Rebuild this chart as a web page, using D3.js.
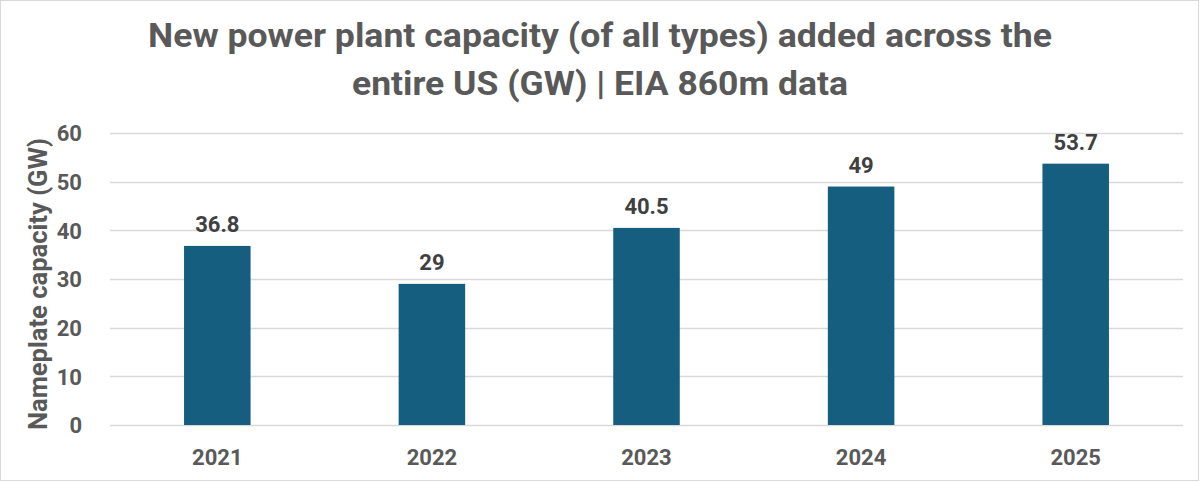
<!DOCTYPE html>
<html>
<head>
<meta charset="utf-8">
<script src="https://cdn.jsdelivr.net/npm/d3@7"></script>
<style>
  body { margin: 0; background: #fff; }
  text { font-family: "Roboto", "Liberation Sans", sans-serif; font-weight: bold; }
</style>
</head>
<body>
<div id="chart"></div>
<script>
const years = ["2021", "2022", "2023", "2024", "2025"];
const capacity = [36.8, 29, 40.5, 49, 53.7];
const yTicks = [0, 10, 20, 30, 40, 50, 60];
const titleLines = ["New power plant capacity (of all types) added across the", "entire US (GW) | EIA 860m data"];
const yTitle = "Nameplate capacity (GW)";

const SIZE = { width: 1200, height: 482 };
const MARGIN = { left: 110, right: 17, top: 133, bottom: 57 };

const svg = d3.select("#chart").append("svg")
    .attr("width", SIZE.width)
    .attr("height", SIZE.height);

svg.append("rect")
    .attr("x", 0.5).attr("y", 0.5)
    .attr("width", SIZE.width - 2).attr("height", SIZE.height - 2)
    .attr("fill", "#fff").attr("stroke", "#d9d9d9");

// title widths
const titleWidths = [904, 496];
svg.selectAll(".title").data(titleLines).enter().append("text")
    .attr("class", "title")
    .attr("x", 600)
    .attr("y", (d, i) => 47 + i * 48)
    .attr("text-anchor", "middle")
    .attr("fill", "#595959")
    .attr("textLength", (d, i) => titleWidths[i])
    .attr("lengthAdjust", "spacingAndGlyphs")
    .style("font-size", "34px")
    .text(d => d);

const x = d3.scaleBand().domain(years)
    .range([MARGIN.left, SIZE.width - MARGIN.right])
    .paddingInner(0.69).paddingOuter(0.345);
const y = d3.scaleLinear().domain([0, 60])
    .range([SIZE.height - MARGIN.bottom, MARGIN.top]);

// gridlines
svg.append("g").selectAll("line").data(yTicks).enter().append("line")
    .attr("x1", MARGIN.left).attr("x2", SIZE.width - MARGIN.right)
    .attr("y1", d => Math.round(y(d)) + 0.5).attr("y2", d => Math.round(y(d)) + 0.5)
    .attr("stroke", "#d9d9d9").attr("stroke-width", 1.3);

const yAxis = svg.append("g")
    .attr("transform", `translate(${MARGIN.left}, 0)`)
    .call(d3.axisLeft(y).tickValues(yTicks).tickSize(0).tickPadding(28));
yAxis.select(".domain").remove();
yAxis.selectAll("text").attr("fill", "#595959").style("font-size", "22px").attr("dy", "0.36em");

const xAxis = svg.append("g")
    .attr("transform", `translate(0, ${SIZE.height - MARGIN.bottom})`)
    .call(d3.axisBottom(x).tickSize(0).tickPadding(24));
xAxis.select(".domain").remove();
xAxis.selectAll("text").attr("fill", "#595959").style("font-size", "22px");

svg.append("text")
    .attr("transform", `translate(47, ${(y(0) + y(60)) / 2 + 5}) rotate(-90)`)
    .attr("text-anchor", "middle")
    .attr("fill", "#595959")
    .attr("textLength", 292)
    .attr("lengthAdjust", "spacingAndGlyphs")
    .style("font-size", "26px")
    .text(yTitle);

const data = years.map((d, i) => ({ year: d, value: capacity[i] }));

svg.append("g").selectAll("rect").data(data).enter().append("rect")
    .attr("x", d => x(d.year))
    .attr("y", d => y(d.value))
    .attr("width", x.bandwidth())
    .attr("height", d => y(0) - y(d.value))
    .attr("fill", "#165e80");

svg.append("g").selectAll("text").data(data).enter().append("text")
    .attr("x", d => x(d.year) + x.bandwidth() / 2)
    .attr("y", d => y(d.value) - 14)
    .attr("text-anchor", "middle")
    .attr("fill", "#404040")
    .style("font-size", "22px")
    .text(d => d.value);
</script>
</body>
</html>
